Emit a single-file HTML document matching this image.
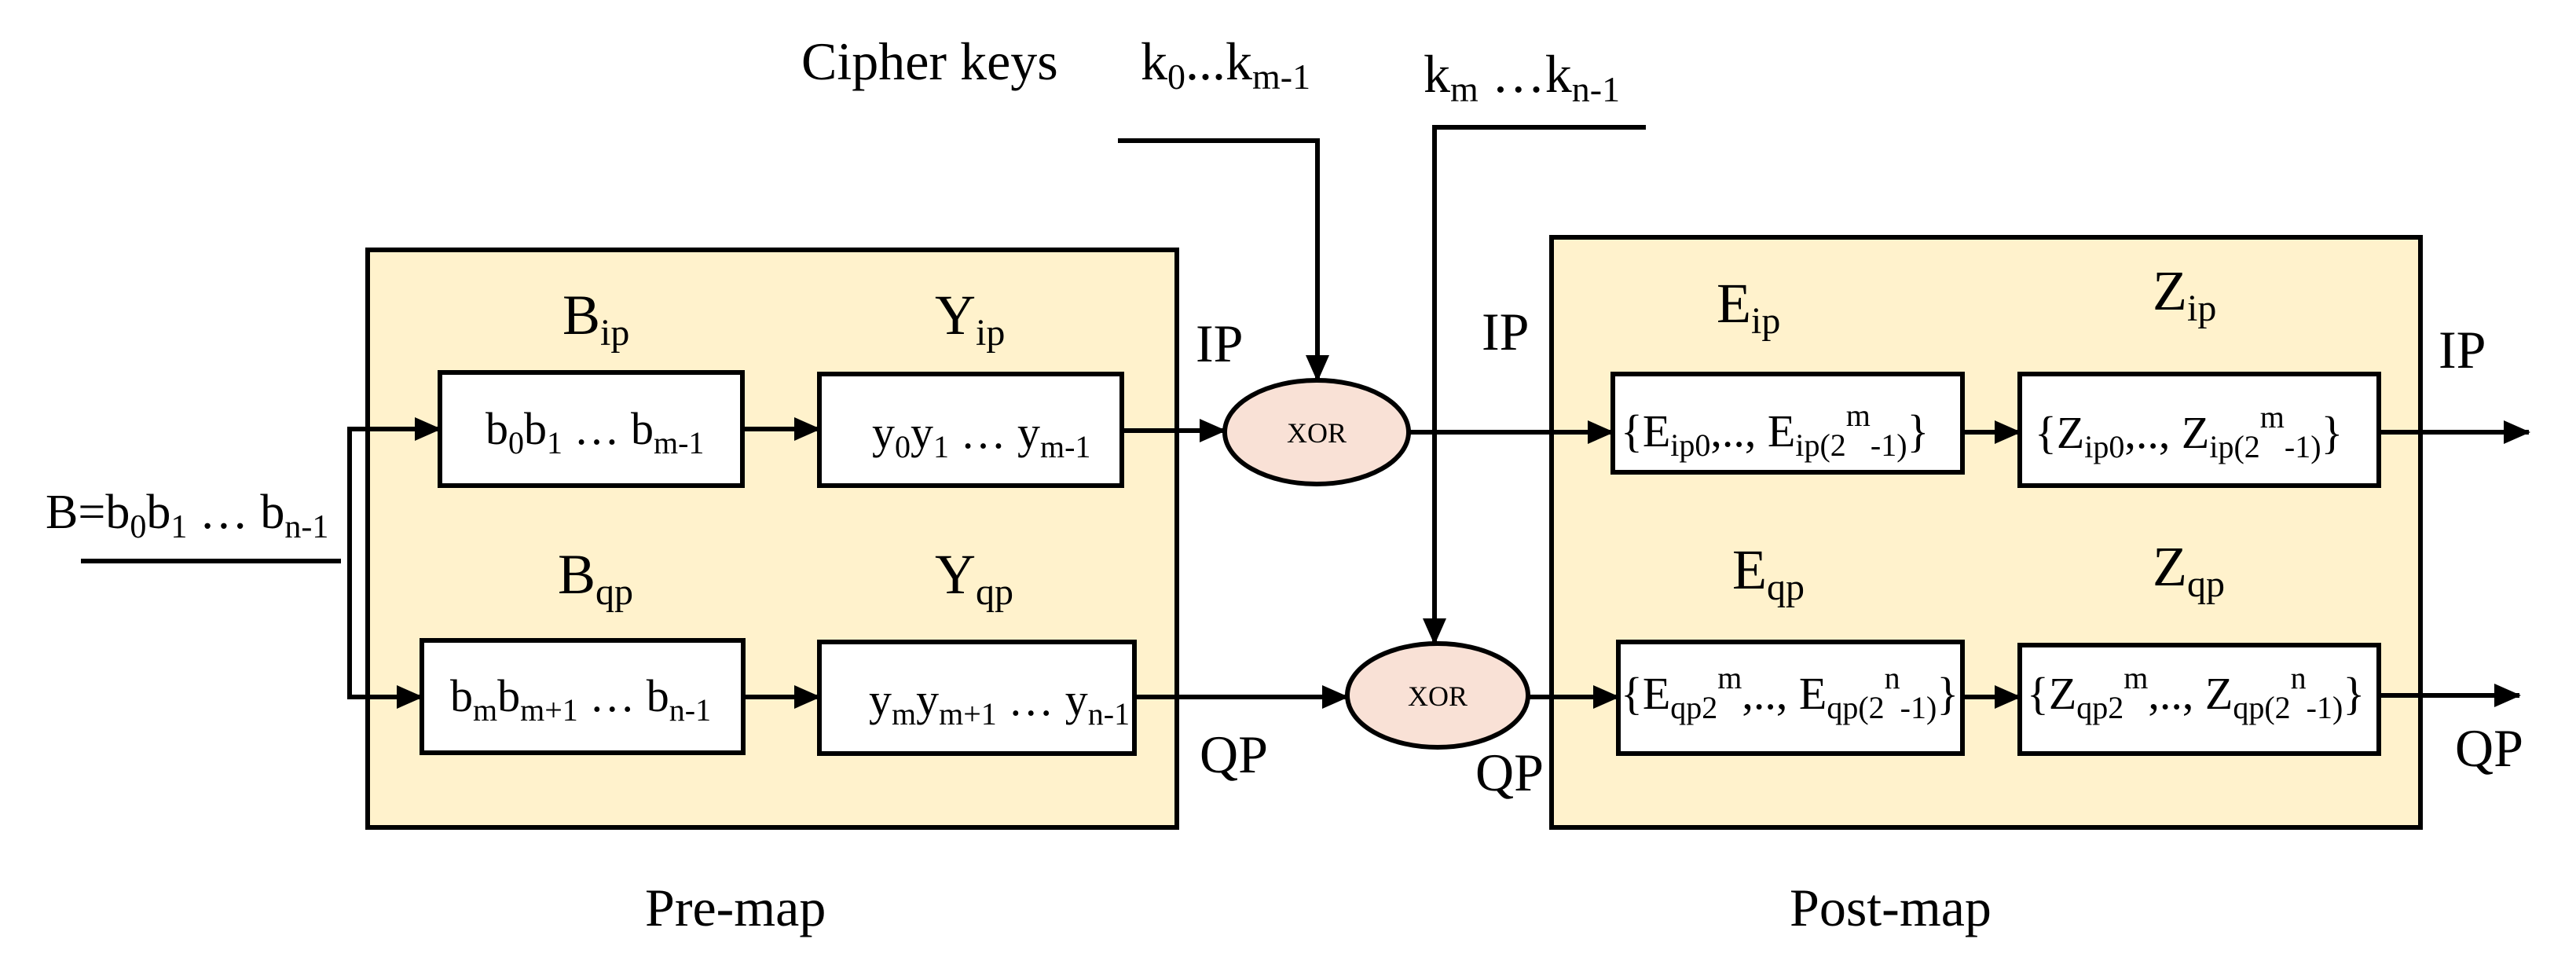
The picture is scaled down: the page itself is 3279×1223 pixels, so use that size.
<!DOCTYPE html>
<html><head><meta charset="utf-8"><style>
html,body{margin:0;padding:0;background:#fff}
svg{display:block}
text{font-family:"Liberation Serif",serif;fill:#000}
</style></head><body>
<svg width="3279" height="1223" viewBox="0 0 3279 1223" xmlns="http://www.w3.org/2000/svg">
<defs>
<marker id="a" markerWidth="34" markerHeight="30" refX="32" refY="15" orient="auto" markerUnits="userSpaceOnUse">
<path d="M0,0 L34,15 L0,30 Z" fill="#000"/>
</marker>
</defs>
<g stroke="#000" stroke-width="6">
<rect x="468" y="318" width="1030" height="735" fill="#FFF2CC"/>
<rect x="1975" y="302" width="1106" height="751" fill="#FFF2CC"/>
<rect x="560" y="474" width="385" height="144" fill="#fff"/>
<rect x="1043" y="476" width="385" height="142" fill="#fff"/>
<rect x="537" y="815" width="409" height="143" fill="#fff"/>
<rect x="1043" y="817" width="401" height="142" fill="#fff"/>
<rect x="2053" y="476" width="445" height="125" fill="#fff"/>
<rect x="2571" y="476" width="457" height="142" fill="#fff"/>
<rect x="2060" y="817" width="438" height="142" fill="#fff"/>
<rect x="2571" y="821" width="457" height="138" fill="#fff"/>
<ellipse cx="1676" cy="550" rx="117" ry="66" fill="#F9E1D6"/>
<ellipse cx="1830" cy="885" rx="115" ry="66" fill="#F9E1D6"/>
<g fill="none">
<path d="M103,714 H434"/>
<path d="M445,546 V887"/>
<path d="M442,546 H560" marker-end="url(#a)"/>
<path d="M442,887 H537" marker-end="url(#a)"/>
<path d="M945,546 H1043" marker-end="url(#a)"/>
<path d="M946,887 H1043" marker-end="url(#a)"/>
<path d="M1428,548 H1559" marker-end="url(#a)"/>
<path d="M1444,887 H1715" marker-end="url(#a)"/>
<path d="M1792,550 H2053" marker-end="url(#a)"/>
<path d="M1945,887 H2060" marker-end="url(#a)"/>
<path d="M2498,550 H2571" marker-end="url(#a)"/>
<path d="M2498,887 H2571" marker-end="url(#a)"/>
<path d="M3028,550 H3219" marker-end="url(#a)"/>
<path d="M3028,885 H3207" marker-end="url(#a)"/>
<path d="M1423,179 H1677 V484" marker-end="url(#a)"/>
<path d="M2095,162 H1826 V819" marker-end="url(#a)"/>
</g>
</g>
<g font-size="68">
<text x="1020" y="101">Cipher keys</text>
<text x="1452" y="101">k<tspan font-size="46" dy="12">0</tspan><tspan dy="-12">...k</tspan><tspan font-size="46" dy="12">m-1</tspan></text>
<text x="1812" y="117">k<tspan font-size="46" dy="12">m</tspan><tspan dy="-12"> …k</tspan><tspan font-size="46" dy="12">n-1</tspan></text>
<text x="58" y="672" font-size="62">B=b<tspan font-size="42" dy="12">0</tspan><tspan dy="-12">b</tspan><tspan font-size="42" dy="12">1</tspan><tspan dy="-12"> … b</tspan><tspan font-size="42" dy="12">n-1</tspan></text>
<text x="716" y="425" font-size="72">B<tspan font-size="48" dy="14">ip</tspan></text>
<text x="1190" y="425" font-size="72">Y<tspan font-size="48" dy="14">ip</tspan></text>
<text x="710" y="755" font-size="72">B<tspan font-size="48" dy="14">qp</tspan></text>
<text x="1190" y="755" font-size="72">Y<tspan font-size="48" dy="14">qp</tspan></text>
<text x="1522" y="460">IP</text>
<text x="1527" y="983">QP</text>
<text x="1886" y="445">IP</text>
<text x="1878" y="1006">QP</text>
<text x="3104" y="468">IP</text>
<text x="3125" y="975">QP</text>
<text x="821" y="1178">Pre-map</text>
<text x="2278" y="1178">Post-map</text>
<text x="2185" y="410" font-size="72">E<tspan font-size="48" dy="14">ip</tspan></text>
<text x="2740" y="394" font-size="72">Z<tspan font-size="48" dy="14">ip</tspan></text>
<text x="2205" y="749" font-size="72">E<tspan font-size="48" dy="14">qp</tspan></text>
<text x="2740" y="745" font-size="72">Z<tspan font-size="48" dy="14">qp</tspan></text>
</g>
<g font-size="58">
<text x="618" y="565">b<tspan font-size="40" dy="12">0</tspan><tspan dy="-12">b</tspan><tspan font-size="40" dy="12">1</tspan><tspan dy="-12"> … b</tspan><tspan font-size="40" dy="12">m-1</tspan></text>
<text x="1110" y="570">y<tspan font-size="40" dy="12">0</tspan><tspan dy="-12">y</tspan><tspan font-size="40" dy="12">1</tspan><tspan dy="-12"> … y</tspan><tspan font-size="40" dy="12">m-1</tspan></text>
<text x="573" y="905">b<tspan font-size="40" dy="12">m</tspan><tspan dy="-12">b</tspan><tspan font-size="40" dy="12">m+1</tspan><tspan dy="-12"> … b</tspan><tspan font-size="40" dy="12">n-1</tspan></text>
<text x="1106" y="910">y<tspan font-size="40" dy="12">m</tspan><tspan dy="-12">y</tspan><tspan font-size="40" dy="12">m+1</tspan><tspan dy="-12"> … y</tspan><tspan font-size="40" dy="12">n-1</tspan></text>
<text x="2063" y="568">{E<tspan font-size="40" dy="12">ip0</tspan><tspan dy="-12">,.., E</tspan><tspan font-size="40" dy="12">ip(2</tspan><tspan font-size="40" dy="-38">m</tspan><tspan font-size="40" dy="38">-1)</tspan><tspan dy="-12">}</tspan></text>
<text x="2590" y="570">{Z<tspan font-size="40" dy="12">ip0</tspan><tspan dy="-12">,.., Z</tspan><tspan font-size="40" dy="12">ip(2</tspan><tspan font-size="40" dy="-38">m</tspan><tspan font-size="40" dy="38">-1)</tspan><tspan dy="-12">}</tspan></text>
<text x="2063" y="902">{E<tspan font-size="40" dy="12">qp2</tspan><tspan font-size="40" dy="-38">m</tspan><tspan dy="26">,.., E</tspan><tspan font-size="40" dy="12">qp(2</tspan><tspan font-size="40" dy="-38">n</tspan><tspan font-size="40" dy="38">-1)</tspan><tspan dy="-12">}</tspan></text>
<text x="2580" y="902">{Z<tspan font-size="40" dy="12">qp2</tspan><tspan font-size="40" dy="-38">m</tspan><tspan dy="26">,.., Z</tspan><tspan font-size="40" dy="12">qp(2</tspan><tspan font-size="40" dy="-38">n</tspan><tspan font-size="40" dy="38">-1)</tspan><tspan dy="-12">}</tspan></text>
</g>
<text x="1676" y="563" font-size="36" text-anchor="middle">XOR</text>
<text x="1830" y="898" font-size="36" text-anchor="middle">XOR</text>
</svg>
</body></html>
